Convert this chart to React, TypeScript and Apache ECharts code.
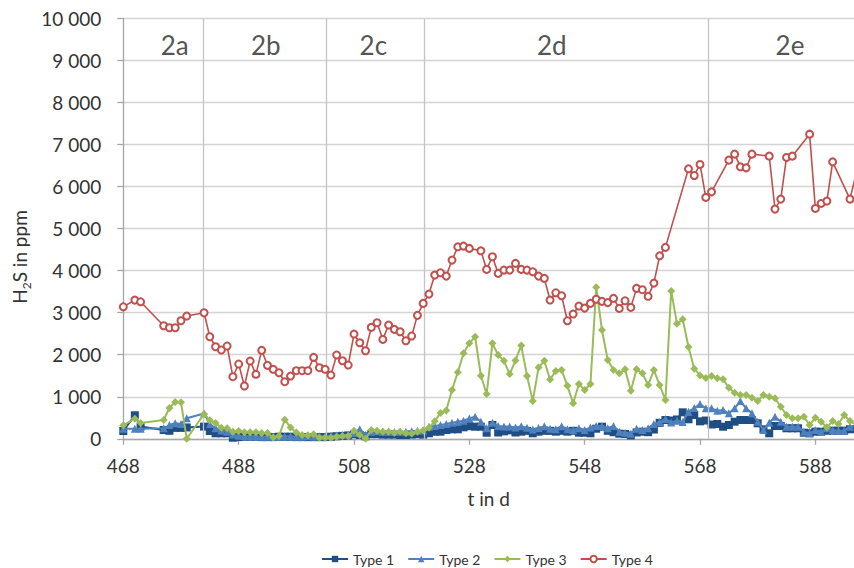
import React, { useEffect, useRef } from "react";
import * as echarts from "echarts";

const days = [
  468, 470, 471, 475, 476, 477, 478, 479, 482, 483,
  484, 485, 486, 487, 488, 489, 490, 491, 492, 493,
  494, 495, 496, 497, 498, 499, 500, 501, 502, 503,
  504, 505, 506, 507, 508, 509, 510, 511, 512, 513,
  514, 515, 516, 517, 518, 519, 520, 521, 522, 523,
  524, 525, 526, 527, 528, 529, 530, 531, 532, 533,
  534, 535, 536, 537, 538, 539, 540, 541, 542, 543,
  544, 545, 546, 547, 548, 549, 550, 551, 552, 553,
  554, 555, 556, 557, 558, 559, 560, 561, 562, 563,
  564, 565, 566, 567, 568, 569, 570, 571, 572, 573,
  574, 575, 576, 577, 578, 579, 580, 581, 582, 583,
  584, 585, 586, 587, 588, 589, 590, 591, 592, 593,
  594, 595,
];

const type1 = [
  185, 560, 290, 210, 190, 260, 260, 270, 290, 185,
  131, 131, 131, 26, 40, 50, 50, 50, 40, 40,
  40, 50, 50, 50, 40, 40, 40, 40, 40, 40,
  50, 60, 70, 80, 110, 90, 60, 110, 110, 100,
  100, 100, 90, 90, 100, 110, 100, 131, 169, 169,
  209, 226, 226, 273, 300, 288, 288, 145, 328, 150,
  177, 200, 150, 169, 189, 131, 169, 190, 189, 170,
  190, 170, 190, 145, 145, 131, 240, 288, 190, 157,
  122, 114, 80, 150, 169, 157, 220, 380, 447, 435,
  460, 630, 464, 566, 415, 435, 340, 352, 288, 328,
  407, 447, 447, 447, 369, 226, 131, 304, 304, 250,
  250, 250, 145, 131, 169, 169, 193, 193, 193, 193,
  226, 250,
];

const type2 = [
  240, 240, 240, 250, 328, 368, 352, 490, 600, 350,
  250, 200, 170, 100, 70, 60, 60, 60, 50, 50,
  50, 50, 60, 60, 50, 50, 60, 50, 60, 60,
  70, 80, 90, 100, 140, 230, 90, 170, 180, 170,
  170, 160, 170, 170, 180, 190, 200, 288, 304, 328,
  352, 383, 407, 430, 485, 526, 407, 250, 383, 304,
  295, 295, 266, 300, 260, 220, 258, 296, 240, 228,
  300, 226, 209, 250, 209, 266, 304, 304, 250, 304,
  170, 145, 120, 240, 209, 250, 350, 400, 470, 390,
  430, 400, 645, 733, 828, 725, 725, 668, 685, 606,
  725, 899, 725, 606, 407, 209, 383, 526, 407, 288,
  288, 288, 169, 131, 209, 169, 250, 209, 193, 193,
  288, 304,
];

const type3 = [
  320, 479, 375, 447, 733, 875, 868, 0, 590, 440,
  375, 264, 250, 165, 185, 155, 155, 155, 140, 140,
  30, 67, 455, 270, 150, 90, 85, 110, 26, 26,
  26, 50, 67, 67, 193, 90, 0, 209, 193, 169,
  169, 145, 169, 131, 125, 169, 200, 260, 420, 615,
  675, 1160, 1585, 2033, 2271, 2428, 1501, 1065, 2271, 1993,
  1855, 1541, 1865, 2222, 1497, 902, 1695, 1857, 1410, 1616,
  1636, 1263, 844, 1303, 1160, 1303, 3603, 2587, 1874, 1636,
  1558, 1653, 1144, 1653, 1558, 1279, 1636, 1279, 923, 3518,
  2740, 2842, 2183, 1668, 1509, 1446, 1497, 1439, 1415, 1215,
  1096, 1042, 1042, 977, 899, 1042, 1001, 963, 763, 566,
  487, 487, 526, 328, 502, 407, 273, 423, 352, 566,
  423, 340,
];

const type4 = [
  3141, 3300, 3260, 2690, 2642, 2642, 2809, 2920, 2999, 2428,
  2190, 2112, 2207, 1477, 1779, 1256, 1850, 1534, 2104, 1748,
  1653, 1572, 1358, 1493, 1620, 1620, 1620, 1938, 1691, 1653,
  1517, 1993, 1857, 1755, 2492, 2285, 2095, 2651, 2761, 2366,
  2706, 2604, 2547, 2333, 2445, 2937, 3222, 3443, 3895, 3950,
  3871, 4252, 4568, 4585, 4530, null, 4473, 4031, 4331, 3936,
  4014, 4014, 4173, 4031, 4014, 3974, 3871, 3817, 3301, 3474,
  3403, 2808, 2968, 3158, 3110, 3222, 3320, 3270, 3240, 3341,
  3103, 3284, 3127, 3579, 3547, 3390, 3705, 4354, 4554, null,
  null, null, 6424, 6265, 6528, 5743, 5876, null, null, 6630,
  6773, 6471, 6447, 6773, null, null, 6725, 5465, 5703, 6694,
  6725, null, null, 7248, 5481, 5600, 5655, 6589, null, null,
  5703, 6270,
];

const seriesNames = ["Type 1", "Type 2", "Type 3", "Type 4"];
const phaseNames = ["2a", "2b", "2c", "2d", "2e"];
const phaseLabelDays = [476.9, 492.7, 511.35, 542.3, 583.6];
const phaseLabelLevel = 9377;
const phaseBounds = [481.9, 503.15, 520.2, 569.45];
const xTicks = [468, 488, 508, 528, 548, 568, 588];

const FONT = "Lato, 'Noto Sans', sans-serif";
const TEXT = "#333333";

function fmtThousands(v: number): string {
  const s = String(Math.round(v));
  return s.replace(/\B(?=(\d{3})+(?!\d))/g, " ");
}

export default function App() {
  const ref = useRef<HTMLDivElement>(null);

  useEffect(() => {
    if (!ref.current) return;
    const chart = echarts.init(ref.current, undefined, { renderer: "svg" });
    const pairs = (vals: (number | null)[]) =>
      days.map((d, i) => [d, vals[i] === null ? null : vals[i]]);

    const option: any = {
      animation: false,
      backgroundColor: "#ffffff",
      textStyle: { fontFamily: FONT },
      grid: { left: 123.3, top: 18.5, width: 730.7, height: 420.3, containLabel: false },
      legend: {
        data: seriesNames,
        left: 316,
        top: 547,
        itemWidth: 26,
        itemHeight: 8,
        itemGap: 13,
        textStyle: { fontFamily: FONT, fontSize: 14, color: TEXT },
      },
      xAxis: {
        type: "value",
        min: 468,
        max: 594.7,
        interval: 20,
        name: "t in d",
        nameLocation: "middle",
        nameGap: 50,
        nameTextStyle: { fontFamily: FONT, fontSize: 19, color: TEXT },
        axisLine: { show: true, onZero: false, lineStyle: { color: "#a6a6a6", width: 1.3 } },
        axisTick: { show: true, length: 6, lineStyle: { color: "#a6a6a6", width: 1.3 } },
        splitLine: { show: false },
        axisLabel: {
          margin: 17,
          fontFamily: FONT,
          fontSize: 19,
          color: TEXT,
          showMaxLabel: false,
          formatter: (v: number) => (xTicks.indexOf(v) >= 0 ? String(v) : ""),
        },
      },
      yAxis: {
        type: "value",
        min: 0,
        max: 10000,
        interval: 1000,
        axisLine: { show: true, lineStyle: { color: "#a6a6a6", width: 1.3 } },
        axisTick: { show: true, length: 6, lineStyle: { color: "#a6a6a6", width: 1.3 } },
        splitLine: { show: true, lineStyle: { color: "#d4d4d4", width: 1.3 } },
        axisLabel: {
          margin: 22,
          fontFamily: FONT,
          fontSize: 19,
          color: TEXT,
          formatter: (v: number) => fmtThousands(v),
        },
      },
      graphic: [
        {
          type: "text",
          x: 19,
          y: 257,
          rotation: Math.PI / 2,
          style: {
            text: "{a|H}{b|2}{a|S in ppm}",
            align: "center",
            verticalAlign: "middle",
            fill: TEXT,
            rich: {
              a: { fontFamily: FONT, fontSize: 19, lineHeight: 26, fill: TEXT, color: TEXT },
              b: { fontFamily: FONT, fontSize: 12, lineHeight: 26, verticalAlign: "bottom", fill: TEXT, color: TEXT },
            },
          },
        },
      ],
      series: [
        {
          name: "phases",
          type: "scatter",
          z: 1,
          silent: true,
          symbolSize: 1,
          itemStyle: { color: "rgba(0,0,0,0)" },
          data: phaseNames.map((n, i) => ({ name: n, value: [phaseLabelDays[i], phaseLabelLevel] })),
          label: {
            show: true,
            position: "inside",
            formatter: "{b}",
            fontFamily: FONT,
            fontSize: 26,
            color: "#262626",
          },
          markLine: {
            silent: true,
            symbol: ["none", "none"],
            label: { show: false },
            lineStyle: { color: "#c4c4c4", type: "solid", width: 1.3 },
            data: phaseBounds.map((b) => ({ xAxis: b })),
          },
        },
        {
          name: "Type 1",
          type: "line",
          z: 3,
          data: pairs(type1),
          symbol: "rect",
          symbolSize: 8,
          lineStyle: { color: "#1f4e84", width: 2 },
          itemStyle: { color: "#1f4e84" },
        },
        {
          name: "Type 2",
          type: "line",
          z: 4,
          data: pairs(type2),
          symbol: "triangle",
          symbolSize: 8,
          lineStyle: { color: "#4f81bd", width: 2 },
          itemStyle: { color: "#4f81bd" },
        },
        {
          name: "Type 3",
          type: "line",
          z: 5,
          data: pairs(type3),
          symbol: "diamond",
          symbolSize: 8,
          lineStyle: { color: "#9bbb59", width: 2 },
          itemStyle: { color: "#9bbb59" },
        },
        {
          name: "Type 4",
          type: "line",
          z: 6,
          data: pairs(type4),
          connectNulls: true,
          symbol: "emptyCircle",
          symbolSize: 7,
          lineStyle: { color: "#c0504d", width: 1.6 },
          itemStyle: { color: "#c0504d", borderColor: "#c0504d", borderWidth: 1 },
        },
      ],
    };
    chart.setOption(option);
    return () => chart.dispose();
  }, []);

  return (
    <div
      ref={ref}
      style={{ position: "fixed", left: 0, top: 0, width: 854, height: 568, background: "#fff" }}
    />
  );
}
